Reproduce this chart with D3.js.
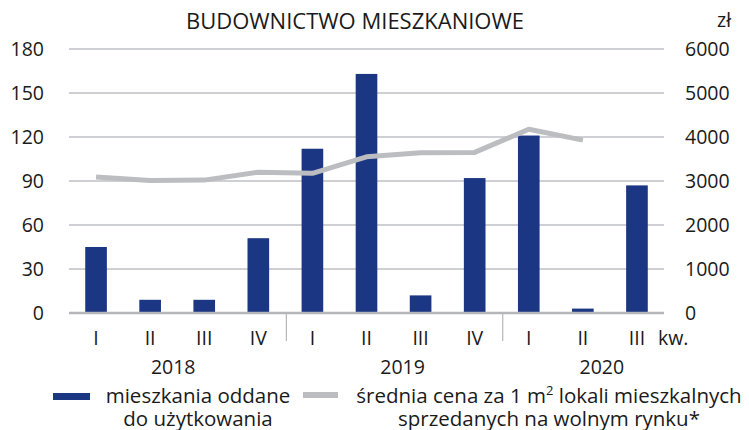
<!DOCTYPE html>
<html>
<head>
<meta charset="utf-8">
<script src="https://cdn.jsdelivr.net/npm/d3@7"></script>
<style>
  body { margin: 0; background: #fff; }
  svg text { font-family: "Open Sans", sans-serif; fill: #1a1a1a; }
</style>
</head>
<body>
<svg id="chart" width="749" height="430"></svg>
<script>
// data
const quarters = ["I", "II", "III", "IV", "I", "II", "III", "IV", "I", "II", "III"];
const years = ["2018", "2019", "2020"];
const yearQuarters = [4, 4, 3];
const dwellings = [45, 9, 9, 51, 112, 163, 12, 92, 121, 3, 87];
const price = [3090, 3010, 3020, 3200, 3175, 3550, 3640, 3650, 4175, 3930, null];
const leftTicks = [0, 30, 60, 90, 120, 150, 180];
const rightTicks = [0, 1000, 2000, 3000, 4000, 5000, 6000];

// layout
const svg = d3.select("#chart");
const plot = { left: 69, right: 664, top: 49, bottom: 313 };
const yearShift = [-4, 9, 19];   // year labels sit a little off the group centre

const x = d3.scaleBand()
    .domain(d3.range(quarters.length))
    .range([plot.left, plot.right])
    .paddingInner(0.6)
    .paddingOuter(0.3);

const yL = d3.scaleLinear().domain([0, 180]).range([plot.bottom, plot.top]);
const yR = d3.scaleLinear().domain([0, 6000]).range([plot.bottom, plot.top]);
const step = x.step();

// gridlines
svg.append("g")
    .selectAll("line")
    .data(leftTicks.slice(1))
    .join("line")
    .attr("x1", plot.left).attr("x2", plot.right)
    .attr("y1", d => yL(d)).attr("y2", d => yL(d))
    .attr("stroke", "#bfc0c4")
    .attr("stroke-width", 1.5);

// left axis labels
svg.append("g")
    .selectAll("text")
    .data(leftTicks)
    .join("text")
    .attr("x", 44)
    .attr("y", d => yL(d) + 7)
    .attr("text-anchor", "end")
    .attr("font-size", 19.5)
    .text(d => d);

// right axis labels
svg.append("g")
    .selectAll("text")
    .data(rightTicks)
    .join("text")
    .attr("x", 685)
    .attr("y", d => yR(d) + 7)
    .attr("font-size", 19.5)
    .text(d => d);

// bars
svg.append("g")
    .selectAll("rect")
    .data(dwellings)
    .join("rect")
    .attr("x", (d, i) => x(i))
    .attr("y", d => yL(d))
    .attr("width", x.bandwidth())
    .attr("height", d => plot.bottom - yL(d))
    .attr("fill", "#1b3682");

// baseline
svg.append("line")
    .attr("x1", plot.left).attr("x2", plot.right)
    .attr("y1", plot.bottom).attr("y2", plot.bottom)
    .attr("stroke", "#b5b6ba")
    .attr("stroke-width", 2.5);

// year separators
let acc = 0;
yearQuarters.slice(0, -1).forEach(n => {
  acc += n;
  const sx = x(acc) - step * 0.3 + 1;
  svg.append("line")
      .attr("x1", sx).attr("x2", sx)
      .attr("y1", plot.bottom).attr("y2", 341)
      .attr("stroke", "#b5b6ba")
      .attr("stroke-width", 1.2);
});

// price line
const line = d3.line()
    .defined(d => d != null)
    .x((d, i) => x(i) + x.bandwidth() / 2)
    .y(d => yR(d));

svg.append("path")
    .datum(price)
    .attr("d", line)
    .attr("fill", "none")
    .attr("stroke", "#bcbdc1")
    .attr("stroke-width", 5)
    .attr("stroke-linejoin", "round");

// quarter labels
svg.append("g")
    .selectAll("text")
    .data(quarters)
    .join("text")
    .attr("x", (d, i) => x(i) + x.bandwidth() / 2)
    .attr("y", 345)
    .attr("text-anchor", "middle")
    .attr("font-size", 19.5)
    .text(d => d);

svg.append("text")
    .attr("x", 658).attr("y", 345)
    .attr("font-size", 19.5)
    .text("kw.");

// year labels
let start = 0;
years.forEach((yr, k) => {
  const n = yearQuarters[k];
  const cx = (x(start) + x(start + n - 1) + x.bandwidth()) / 2 + yearShift[k];
  svg.append("text")
      .attr("x", cx).attr("y", 374)
      .attr("text-anchor", "middle")
      .attr("font-size", 19.5)
      .text(yr);
  start += n;
});

// title
svg.append("text")
    .attr("x", 355).attr("y", 29)
    .attr("text-anchor", "middle")
    .attr("font-size", 22)
    .text("BUDOWNICTWO MIESZKANIOWE");

svg.append("text")
    .attr("x", 717).attr("y", 27)
    .attr("font-size", 19.5)
    .text("zł");

// legend
svg.append("rect")
    .attr("x", 53).attr("y", 393)
    .attr("width", 37).attr("height", 7)
    .attr("fill", "#1b3682");
svg.append("text")
    .attr("x", 198).attr("y", 403)
    .attr("text-anchor", "middle")
    .attr("font-size", 20.5)
    .text("mieszkania oddane");
svg.append("text")
    .attr("x", 198).attr("y", 426)
    .attr("text-anchor", "middle")
    .attr("font-size", 20.5)
    .text("do użytkowania");

svg.append("rect")
    .attr("x", 303).attr("y", 392)
    .attr("width", 35).attr("height", 6)
    .attr("fill", "#bcbdc1");
const t2 = svg.append("text")
    .attr("x", 549).attr("y", 403)
    .attr("text-anchor", "middle")
    .attr("font-size", 20.5);
t2.append("tspan").text("średnia cena za 1 m");
t2.append("tspan").attr("font-size", 13).attr("dy", -8).text("2");
t2.append("tspan").attr("dy", 8).text(" lokali mieszkalnych");
svg.append("text")
    .attr("x", 549).attr("y", 426)
    .attr("text-anchor", "middle")
    .attr("font-size", 20.5)
    .text("sprzedanych na wolnym rynku*");
</script>
</body>
</html>
